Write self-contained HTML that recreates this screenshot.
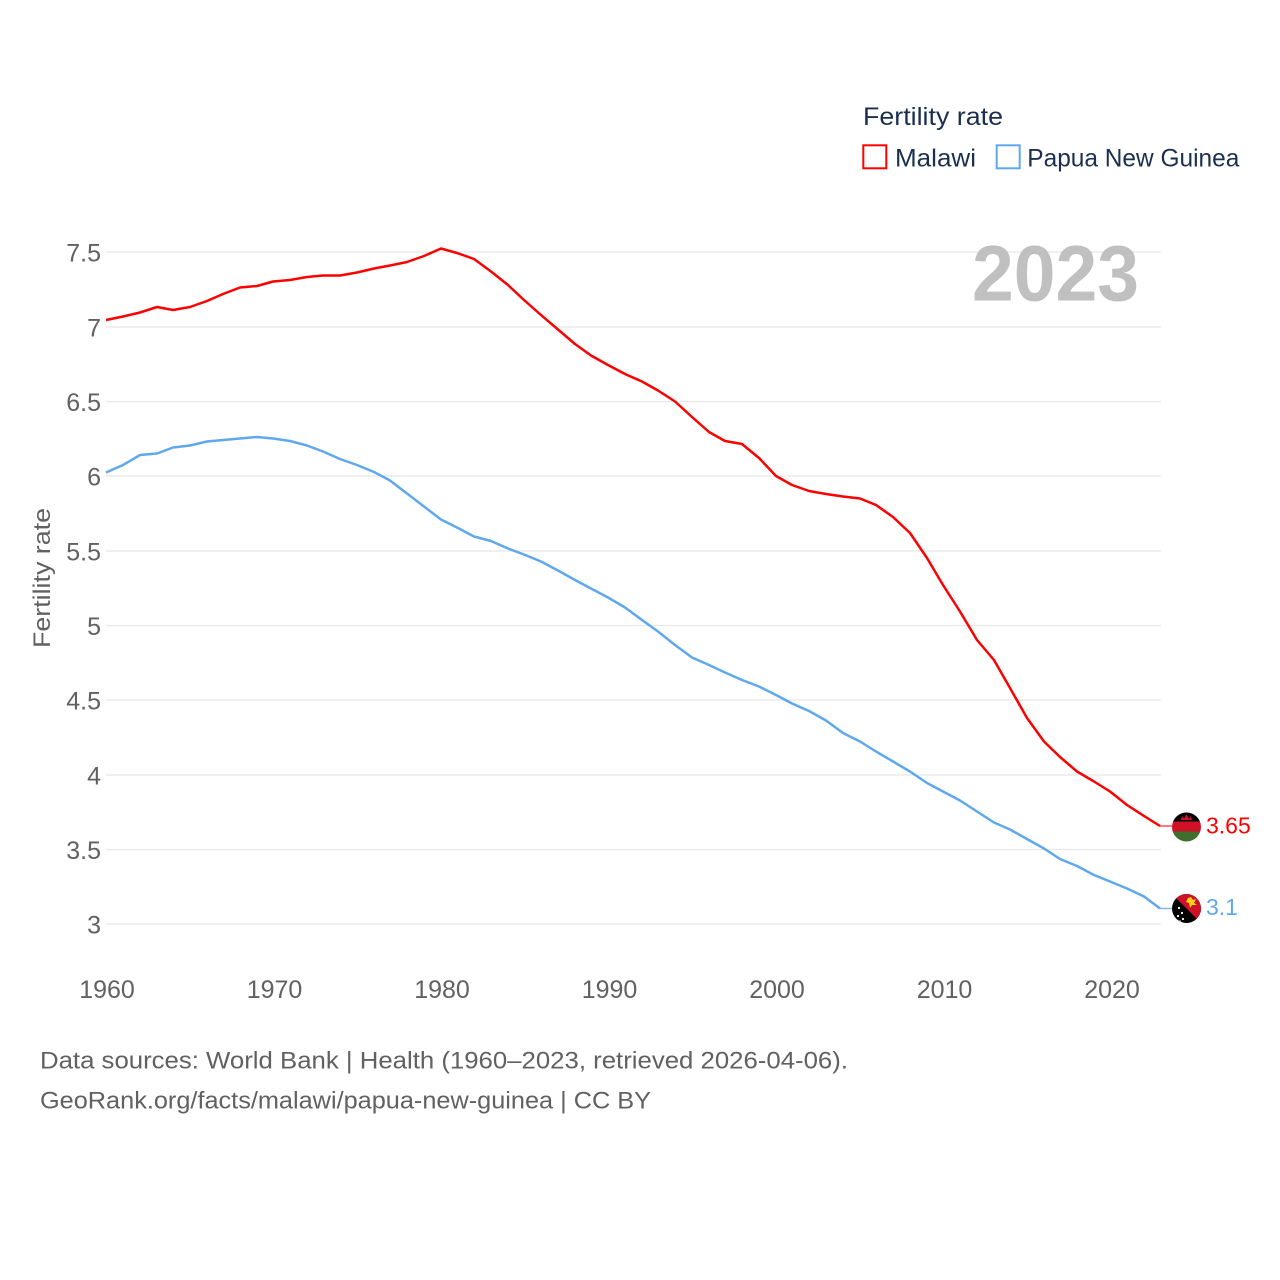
<!DOCTYPE html>
<html>
<head>
<meta charset="utf-8">
<style>
  html,body{margin:0;padding:0;background:#fff;}
  svg{display:block;}
  text{font-family:"Liberation Sans", sans-serif;}
</style>
</head>
<body>
<svg width="1280" height="1280" viewBox="0 0 1280 1280" xmlns="http://www.w3.org/2000/svg">
  <rect width="1280" height="1280" fill="#fff"/>

  <!-- Legend -->
  <text x="863" y="125" font-size="25" fill="#1b2f4e" textLength="140" lengthAdjust="spacingAndGlyphs">Fertility rate</text>
  <rect x="863.3" y="145.3" width="23" height="23" fill="none" stroke="#ff0000" stroke-width="2"/>
  <text x="895" y="166.7" font-size="25" fill="#1b2f4e" textLength="81" lengthAdjust="spacingAndGlyphs">Malawi</text>
  <rect x="996.7" y="145.3" width="23" height="23" fill="none" stroke="#60a8ee" stroke-width="2"/>
  <text x="1027.3" y="166.7" font-size="25" fill="#1b2f4e" textLength="212" lengthAdjust="spacingAndGlyphs">Papua New Guinea</text>

  <!-- Grid lines -->
  <g stroke="#e8e8e8" stroke-width="1.3">
    <line x1="106" y1="252" x2="1161" y2="252"/>
    <line x1="106" y1="327" x2="1161" y2="327"/>
    <line x1="106" y1="401.5" x2="1161" y2="401.5"/>
    <line x1="106" y1="476" x2="1161" y2="476"/>
    <line x1="106" y1="551" x2="1161" y2="551"/>
    <line x1="106" y1="625.5" x2="1161" y2="625.5"/>
    <line x1="106" y1="700" x2="1161" y2="700"/>
    <line x1="106" y1="775" x2="1161" y2="775"/>
    <line x1="106" y1="849.5" x2="1161" y2="849.5"/>
    <line x1="106" y1="924" x2="1161" y2="924"/>
  </g>

  <!-- Big year -->
  <text x="972" y="300.7" font-size="79" font-weight="bold" fill="#c0c0c0" textLength="167" lengthAdjust="spacingAndGlyphs">2023</text>

  <!-- Y tick labels -->
  <g font-size="25" fill="#616161" text-anchor="end">
    <text x="101" y="261.5">7.5</text>
    <text x="101" y="336.5">7</text>
    <text x="101" y="411">6.5</text>
    <text x="101" y="485.5">6</text>
    <text x="101" y="560.5">5.5</text>
    <text x="101" y="635">5</text>
    <text x="101" y="709.5">4.5</text>
    <text x="101" y="784.5">4</text>
    <text x="101" y="859">3.5</text>
    <text x="101" y="933.5">3</text>
  </g>

  <!-- Y axis title -->
  <text transform="translate(50,578) rotate(-90)" font-size="24" fill="#616161" text-anchor="middle" textLength="140" lengthAdjust="spacingAndGlyphs">Fertility rate</text>

  <!-- X tick labels -->
  <g font-size="25" fill="#616161" text-anchor="middle">
    <text x="107" y="998">1960</text>
    <text x="274.5" y="998">1970</text>
    <text x="442" y="998">1980</text>
    <text x="609.5" y="998">1990</text>
    <text x="777" y="998">2000</text>
    <text x="944.5" y="998">2010</text>
    <text x="1112" y="998">2020</text>
  </g>

  <!-- Malawi series -->
  <polyline fill="none" stroke="#ff0000" stroke-width="2.5" stroke-linejoin="round" points="
    106,320 123,316.5 140,312.5 157,307 173,310 190,307 207,301 223,294 240,287.5 257,286
    273,281.5 290,280 307,277 323,275.5 340,275.5 357,272.5 374,268.5 390,265.5 407,262 424,256
    441,248.5 457,253 474,259 491,271.5 508,285 524,300 541,315 558,329.5 575,344 591,355.5
    608,365 625,374 642,381.5 658,390.5 675,401.5 692,417 709,432 725,441 742,444 759,458
    776,476 792,485 809,491 826,494 843,496.5 860,498.5 876,505 893,517 910,533 927,558
    943,585 960,611.5 977,640 994,660 1010,688 1027,718 1044,741.5 1060,757 1077,771.5 1094,781.5
    1110,791.5 1127,805 1144,816 1160,826"/>
  <line x1="1160" y1="826" x2="1172" y2="826" stroke="#ff5050" stroke-width="1.5"/>

  <!-- PNG series -->
  <polyline fill="none" stroke="#60a8ee" stroke-width="2.5" stroke-linejoin="round" points="
    106,472.5 123,465 140,455 157,453.5 173,447.5 190,445.5 207,441.5 223,440 240,438.5 257,437
    273,438.5 290,441 307,445.5 323,451.5 340,459 357,465 374,472 390,480.5 407,493.5 424,506.5
    441,519.5 457,527.5 474,536.5 491,541 508,548.5 524,554.5 541,561.5 558,570.5 575,580 591,588.5
    608,597.5 625,607.5 642,620 658,631.5 675,645 692,657.5 709,665 725,672.5 742,680 759,686.5
    776,695 792,703.5 809,711 826,720.5 843,733 860,741.5 876,751.5 893,761.5 910,771.5 927,783
    943,791.5 960,800.5 977,811.5 994,822.5 1010,829.5 1027,839 1044,848.5 1060,859 1077,866 1094,875
    1110,881.5 1127,888.5 1144,896.5 1160,908.5"/>
  <line x1="1160" y1="908.5" x2="1172" y2="908.5" stroke="#80b8f0" stroke-width="1.5"/>

  <defs>
    <clipPath id="cm"><circle cx="1186.5" cy="827" r="14.5"/></clipPath>
    <clipPath id="cp"><circle cx="1186.5" cy="908.5" r="14.5"/></clipPath>
  </defs>

  <!-- Malawi flag -->
  <g clip-path="url(#cm)">
    <rect x="1170" y="810" width="34" height="12" fill="#000"/>
    <rect x="1170" y="821.5" width="34" height="10.5" fill="#ce1126"/>
    <rect x="1170" y="831.5" width="34" height="12" fill="#3f6e2e"/>
    <path d="M1181,820 L1182,816 L1184,818.5 L1186.5,814.5 L1189,818.5 L1191,816 L1192,820 Z" fill="#ce1126"/>
  </g>

  <!-- PNG flag -->
  <g clip-path="url(#cp)">
    <rect x="1170" y="892" width="34" height="34" fill="#000"/>
    <path d="M1170,892 L1204,892 L1204,926 Z" fill="#ce1126"/>
    <path d="M1188,898 L1191,897 L1193,900 L1196,899 L1194,903 L1197,905 L1192,905 L1190,908 L1189,903 L1186,902 Z" fill="#fcd116"/>
    <circle cx="1179" cy="908" r="1.1" fill="#fff"/>
    <circle cx="1182" cy="913" r="1.1" fill="#fff"/>
    <circle cx="1178" cy="916" r="1.1" fill="#fff"/>
    <circle cx="1183" cy="919" r="1.1" fill="#fff"/>
    <circle cx="1180" cy="921" r="0.8" fill="#fff"/>
  </g>

  <!-- End labels -->
  <text x="1206" y="833.5" font-size="23" fill="#ff0000">3.65</text>
  <text x="1206" y="915" font-size="23" fill="#60a8ee">3.1</text>

  <!-- Footer -->
  <text x="40" y="1068.3" font-size="24" fill="#616161" textLength="808" lengthAdjust="spacingAndGlyphs">Data sources: World Bank | Health (1960–2023, retrieved 2026-04-06).</text>
  <text x="40" y="1108.3" font-size="24" fill="#616161" textLength="611" lengthAdjust="spacingAndGlyphs">GeoRank.org/facts/malawi/papua-new-guinea | CC BY</text>
</svg>
</body>
</html>
